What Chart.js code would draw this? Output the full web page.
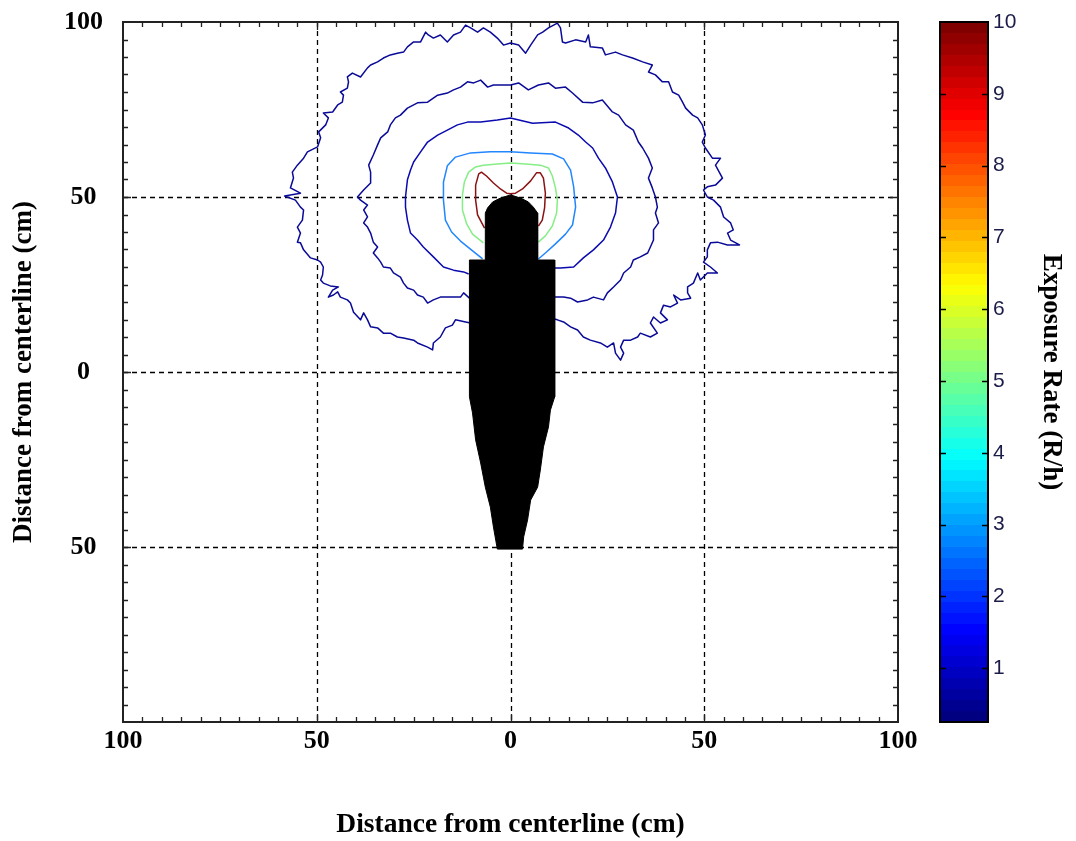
<!DOCTYPE html>
<html>
<head>
<meta charset="utf-8">
<script src="https://cdn.jsdelivr.net/npm/chart.js@4.4.1/dist/chart.umd.min.js"></script>
<style>
  html, body { margin: 0; padding: 0; background: #ffffff; }
  #wrap { position: relative; width: 1076px; height: 841px; overflow: hidden; background: #fff; }
  #main { position: absolute; left: 0; top: 0; }
  #bar { position: absolute; left: 920px; top: 0; }
</style>
</head>
<body>
<div id="wrap">
  <canvas id="main" width="920" height="841"></canvas>
  <canvas id="bar" width="156" height="841"></canvas>
</div>
<script>
// ---------------- DATA ----------------
const X_TICKS = [-100, -50, 0, 50, 100];
const X_TICK_LABELS = ['100', '50', '0', '50', '100'];
const Y_TICKS = [-50, 0, 50, 100];
const Y_TICK_LABELS = ['50', '0', '50', '100'];
const GRID_VALUES = [-50, 0, 50];
const X_TITLE = 'Distance from centerline (cm)';
const Y_TITLE = 'Distance from centerline (cm)';
const CB_TITLE = 'Exposure Rate (R/h)';
const CB_TICKS = [1, 2, 3, 4, 5, 6, 7, 8, 9, 10];
const CB_MIN = 0.25;
const CB_MAX = 10;

// contour lines (x, y in cm), outermost first
const contourOuter = [
  [-10.3,14.0],[-11.6,14.3],[-14.2,14.9],[-15.0,13.4],[-16.8,12.6],[-18.1,10.0],[-19.9,8.3],[-20.1,6.3],
  [-21.4,7.1],[-24.0,8.3],[-25.0,9.1],[-27.6,9.7],[-29.2,10.0],[-31.0,11.1],[-32.8,11.1],[-34.3,12.6],
  [-36.1,12.9],[-36.9,14.9],[-37.9,16.9],[-38.7,14.9],[-40.5,17.1],[-41.3,19.7],[-42.1,20.6],[-43.9,21.4],
  [-44.6,22.9],[-45.7,22.0],[-47.0,21.4],[-45.9,23.4],[-44.4,24.3],[-46.5,24.6],[-48.3,25.4],[-49.0,26.3],
  [-48.5,27.7],[-48.3,30.0],[-49.0,31.4],[-49.8,32.0],[-51.6,32.6],[-53.4,34.9],[-54.2,36.9],[-55.0,37.1],
  [-54.2,39.7],[-55.0,41.4],[-53.7,43.4],[-53.4,46.3],[-54.2,47.1],[-55.5,49.1],[-58.3,50.3],[-54.2,51.1],
  [-56.8,52.6],[-56.0,55.4],[-56.3,57.1],[-55.0,59.1],[-53.4,61.1],[-52.4,62.9],[-49.8,64.3],[-49.0,66.9],
  [-49.5,68.6],[-47.7,70.6],[-47.0,72.6],[-48.3,74.0],[-45.9,74.3],[-44.6,76.3],[-43.4,77.1],[-43.1,79.1],
  [-43.9,80.0],[-42.1,81.1],[-41.8,82.9],[-42.1,84.3],[-40.8,85.4],[-38.7,84.3],[-36.9,86.9],[-36.1,87.7],
  [-34.3,88.6],[-32.8,89.7],[-31.0,90.6],[-29.2,91.1],[-27.6,91.4],[-26.6,92.9],[-25.0,94.3],[-23.2,94.3],
  [-21.9,97.1],[-21.2,96.3],[-19.9,95.4],[-18.1,96.3],[-16.3,94.3],[-14.7,96.3],[-12.9,97.1],[-11.6,99.1],
  [-10.3,98.3],[-8.5,97.1],[-7.0,98.3],[-5.2,97.1],[-3.4,95.4],[-1.8,93.4],[0.0,94.0],[2.1,93.4],
  [3.9,91.1],[5.2,93.4],[7.0,96.3],[8.3,97.1],[9.8,98.3],[12.1,99.7],[12.9,98.3],[13.4,94.3],
  [14.2,94.0],[16.8,94.9],[19.4,94.3],[20.1,96.3],[20.6,92.9],[23.7,92.6],[24.5,90.6],[27.1,91.4],
  [28.9,90.6],[31.5,89.7],[34.1,88.6],[36.6,87.7],[35.6,85.7],[37.4,84.9],[39.2,82.9],[40.8,82.9],
  [41.8,80.0],[43.4,79.1],[44.4,77.1],[45.2,75.4],[47.0,73.4],[48.3,72.6],[49.5,70.6],[50.3,67.7],
  [49.5,65.7],[50.3,64.0],[52.1,61.1],[54.2,61.1],[52.9,59.1],[54.7,55.4],[52.9,53.4],[50.8,52.9],
  [49.8,52.0],[50.8,50.0],[52.4,49.1],[54.2,47.1],[55.0,44.3],[56.8,42.6],[57.5,40.6],[56.0,39.7],
  [56.8,37.7],[59.1,36.3],[56.0,36.3],[53.4,37.1],[51.6,36.9],[50.8,34.9],[50.8,32.9],[49.8,31.4],
  [51.6,30.0],[53.4,28.3],[50.8,28.3],[49.0,26.3],[48.3,28.3],[47.2,25.4],[45.7,24.3],[45.7,22.6],
  [46.5,21.1],[43.9,20.6],[42.1,22.0],[43.1,19.7],[41.3,18.6],[39.5,19.1],[38.7,16.9],[40.5,14.9],
  [38.7,14.0],[36.9,15.7],[36.1,14.0],[37.9,11.1],[36.1,10.0],[33.5,11.1],[32.8,10.0],[31.0,9.1],
  [29.2,9.1],[28.4,7.1],[29.2,5.4],[28.4,3.4],[27.1,5.4],[26.6,8.3],[25.0,7.1],[23.2,8.3],
  [20.6,9.1],[18.8,10.0],[17.3,12.0],[15.5,12.9],[13.7,14.3],[12.1,14.9],[10.3,15.4]
];
const contourSecond = [
  [-10.6,21.1],[-12.1,22.6],[-12.9,21.4],[-18.1,21.4],[-19.9,20.6],[-21.4,19.7],[-22.5,21.4],[-24.0,22.0],
  [-25.0,23.4],[-26.6,24.0],[-27.6,25.4],[-28.4,27.1],[-30.2,28.3],[-31.0,29.7],[-32.8,30.0],[-33.5,31.4],
  [-34.3,32.6],[-35.4,34.0],[-34.3,35.7],[-35.4,37.1],[-36.1,39.7],[-36.9,41.4],[-37.9,42.6],[-36.9,44.3],
  [-37.9,46.3],[-36.9,47.7],[-38.7,49.1],[-39.5,50.0],[-37.9,52.0],[-36.1,54.0],[-36.1,57.1],[-36.6,59.1],
  [-35.4,62.0],[-34.3,64.9],[-33.5,66.9],[-31.7,68.6],[-31.0,70.6],[-29.7,72.6],[-28.4,73.4],[-26.6,75.4],
  [-24.0,76.9],[-21.4,77.1],[-18.8,79.1],[-16.3,79.7],[-14.7,80.6],[-12.9,81.4],[-11.1,82.9],[-9.5,82.6],
  [-7.7,83.4],[-5.9,81.4],[-4.4,82.0],[-1.8,82.0],[0.0,82.0],[2.1,82.6],[4.6,80.6],[7.2,82.0],
  [9.8,82.6],[11.6,81.1],[14.2,81.4],[16.0,79.7],[18.6,77.1],[21.2,76.9],[23.7,77.7],[26.3,74.3],
  [27.9,73.4],[29.7,70.6],[31.7,69.1],[33.0,65.7],[34.1,64.0],[35.6,61.1],[36.6,58.3],[35.6,55.4],
  [36.6,52.6],[37.4,50.0],[37.9,47.1],[37.4,45.4],[38.2,42.6],[36.9,40.6],[36.9,37.7],[36.1,35.7],
  [35.4,34.0],[33.5,32.9],[31.7,32.0],[31.0,30.0],[29.2,28.3],[28.4,26.3],[26.6,24.3],[25.0,22.6],
  [24.0,20.6],[21.4,21.4],[19.9,20.6],[17.3,20.0],[15.5,21.1],[13.7,21.4],[10.6,21.4]
];
const contourThird = [
  [-10.8,28.0],[-12.1,28.6],[-14.7,29.1],[-17.3,30.0],[-19.9,32.9],[-22.5,35.7],[-24.0,37.7],[-25.8,39.7],
  [-26.6,43.4],[-27.1,47.1],[-27.1,50.0],[-26.6,54.9],[-25.8,57.7],[-25.0,60.0],[-23.2,62.9],[-21.4,65.7],
  [-18.8,67.7],[-16.3,69.1],[-13.7,70.6],[-11.1,71.4],[-7.7,71.4],[-3.4,72.0],[0.0,72.6],[5.7,71.1],
  [11.6,71.4],[15.0,69.7],[17.5,67.7],[19.4,65.7],[21.2,64.0],[22.7,61.1],[24.5,58.3],[26.3,54.3],
  [27.6,50.0],[27.1,45.4],[25.8,41.4],[24.0,37.7],[21.4,34.9],[18.8,32.6],[16.3,30.0],[12.9,29.7],[10.8,29.7]
];
const contourLightBlue = [
  [-7.2,32.3],[-10.1,34.9],[-12.9,37.4],[-15.2,40.0],[-16.8,43.4],[-17.3,49.1],[-17.3,54.3],[-16.3,58.9],
  [-14.2,61.4],[-10.3,62.6],[-5.2,62.9],[0.0,62.9],[5.2,62.6],[10.8,62.3],[13.7,60.9],[15.5,57.7],
  [16.3,52.9],[16.8,47.1],[16.0,42.0],[14.2,39.4],[11.6,36.6],[9.0,34.0],[7.2,32.3]
];
const contourGreen = [
  [-7.0,36.9],[-9.8,39.4],[-11.3,42.3],[-12.4,46.3],[-12.4,50.6],[-11.9,54.3],[-10.8,57.1],[-9.0,58.6],
  [-7.0,59.1],[-3.4,59.4],[0.0,59.7],[3.9,59.4],[7.7,59.1],[9.8,58.3],[10.8,56.0],[11.6,52.6],
  [12.1,49.1],[11.9,45.4],[10.8,41.7],[9.0,38.9],[7.2,37.1]
];
const contourRed = [
  [-6.7,41.1],[-8.5,44.9],[-9.0,49.1],[-9.0,53.4],[-8.2,56.6],[-7.5,57.1],[-6.2,56.0],[-4.4,54.0],
  [-2.6,52.3],[-1.0,51.1],[0.0,50.9],[1.3,51.1],[3.1,52.3],[5.2,54.6],[6.7,56.9],[7.7,56.9],
  [8.5,55.4],[9.0,51.1],[8.8,46.9],[8.2,43.4],[7.2,41.7]
];
// outline of the object (black silhouette)
const objectOutline = [
  [0.0,50.6],[2.6,49.7],[4.6,48.6],[5.9,47.1],[7.0,45.4],[7.0,32.0],[11.4,32.0],[11.4,-7.1],
  [10.3,-10.9],[9.8,-15.7],[8.5,-21.4],[7.7,-28.0],[7.0,-32.9],[5.2,-36.6],[4.4,-42.3],[3.4,-47.1],
  [3.1,-50.6],[-3.4,-50.6],[-4.4,-44.3],[-5.2,-38.6],[-6.5,-32.9],[-7.7,-26.0],[-9.0,-19.4],[-9.8,-11.7],
  [-10.6,-7.1],[-10.6,32.0],[-6.5,32.0],[-6.5,45.4],[-5.9,46.9],[-4.6,48.6],[-2.6,49.7],[0.0,50.6]
];

// ---------------- CHART ----------------
const toXY = arr => arr.map(p => ({ x: p[0], y: p[1] }));
const serif = "'Liberation Serif', 'Times New Roman', serif";
const sans = "'Liberation Sans', Arial, sans-serif";

function lineSet(pts, color, order) {
  return { data: toXY(pts), showLine: true, borderColor: color, borderWidth: 1.5,
           pointRadius: 0, tension: 0, fill: false, order: order, borderJoinStyle: 'round' };
}

const framePlugin = {
  id: 'framePlugin',
  beforeDatasetsDraw(chart) {
    const { ctx, chartArea: a, scales: { x, y } } = chart;
    ctx.save();
    ctx.strokeStyle = '#000';
    ctx.lineWidth = 1.3;
    ctx.setLineDash([5, 4]);
    GRID_VALUES.forEach(v => {
      const px = Math.round(x.getPixelForValue(v)) + 0.5;
      ctx.beginPath(); ctx.moveTo(px, a.top); ctx.lineTo(px, a.bottom); ctx.stroke();
      const py = Math.round(y.getPixelForValue(v)) + 0.5;
      ctx.beginPath(); ctx.moveTo(a.left, py); ctx.lineTo(a.right, py); ctx.stroke();
    });
    ctx.restore();
  },
  afterDatasetsDraw(chart) {
    const { ctx, chartArea: a, scales: { x, y } } = chart;
    ctx.save();
    ctx.strokeStyle = '#222';
    ctx.lineWidth = 1.3;
    for (let v = -95; v < 100; v += 5) {
      const len = (v % 50 === 0) ? 8 : 5;
      const px = Math.round(x.getPixelForValue(v)) + 0.5;
      ctx.beginPath(); ctx.moveTo(px, a.top); ctx.lineTo(px, a.top + len);
      ctx.moveTo(px, a.bottom); ctx.lineTo(px, a.bottom - len); ctx.stroke();
      const py = Math.round(y.getPixelForValue(v)) + 0.5;
      ctx.beginPath(); ctx.moveTo(a.left, py); ctx.lineTo(a.left + len, py);
      ctx.moveTo(a.right, py); ctx.lineTo(a.right - len, py); ctx.stroke();
    }
    ctx.lineWidth = 2;
    ctx.strokeRect(a.left, a.top, a.right - a.left, a.bottom - a.top);
    ctx.restore();
  }
};

new Chart(document.getElementById('main'), {
  type: 'scatter',
  data: {
    datasets: [
      { data: toXY(objectOutline), showLine: true, borderColor: '#000', borderWidth: 1,
        backgroundColor: '#000', fill: 'shape', pointRadius: 0, tension: 0, order: 0 },
      lineSet(contourRed, '#8b1212', 1),
      lineSet(contourGreen, '#86ee86', 2),
      lineSet(contourLightBlue, '#2286ff', 3),
      lineSet(contourThird, '#0a0ab0', 4),
      lineSet(contourSecond, '#0a0a98', 5),
      lineSet(contourOuter, '#0a0a98', 6)
    ]
  },
  options: {
    responsive: false,
    animation: false,
    events: [],
    layout: { padding: { left: 0, top: 22, right: 22, bottom: 0 } },
    plugins: { legend: { display: false }, tooltip: { enabled: false } },
    scales: {
      x: {
        type: 'linear', min: -100, max: 100,
        afterBuildTicks: s => { s.ticks = X_TICKS.map(v => ({ value: v })); },
        afterFit: s => { s.height = 119; s.paddingLeft = 0; s.paddingRight = 0; },
        grid: { display: false, drawTicks: false },
        border: { display: false },
        ticks: { padding: 4, color: '#000', font: { family: serif, size: 26, weight: 'bold' },
                 maxRotation: 0, autoSkip: false,
                 callback: v => { const i = X_TICKS.indexOf(v); return i >= 0 ? X_TICK_LABELS[i] : ''; } },
        title: { display: true, text: X_TITLE, color: '#000',
                 font: { family: serif, size: 27.5, weight: 'bold' }, padding: { top: 0, bottom: 0 } }
      },
      y: {
        type: 'linear', min: -100, max: 100,
        afterBuildTicks: s => { s.ticks = Y_TICKS.map(v => ({ value: v })); },
        afterFit: s => { s.width = 123; s.paddingTop = 0; s.paddingBottom = 0; },
        grid: { display: false, drawTicks: false },
        border: { display: false },
        ticks: { padding: 20, crossAlign: 'center', color: '#000',
                 font: { family: serif, size: 26, weight: 'bold' }, autoSkip: false,
                 callback: v => { const i = Y_TICKS.indexOf(v); return i >= 0 ? Y_TICK_LABELS[i] : ''; } },
        title: { display: true, text: Y_TITLE, color: '#000',
                 font: { family: serif, size: 27, weight: 'bold' }, padding: { top: 8, bottom: 0 } }
      }
    }
  },
  plugins: [framePlugin]
});

// ---------------- COLOR BAR ----------------
function jet(t) {
  const c = v => Math.round(255 * Math.max(0, Math.min(1, v)));
  return 'rgb(' + c(1.5 - Math.abs(4 * t - 3)) + ',' + c(1.5 - Math.abs(4 * t - 2)) + ',' + c(1.5 - Math.abs(4 * t - 1)) + ')';
}
const BANDS = 64;
function barFill(context) {
  const { ctx, chartArea } = context.chart;
  if (!chartArea) return '#000080';
  const g = ctx.createLinearGradient(0, chartArea.bottom, 0, chartArea.top);
  for (let i = 0; i < BANDS; i++) {
    const col = jet(i / (BANDS - 1));
    g.addColorStop(i / BANDS, col);
    g.addColorStop((i + 1) / BANDS, col);
  }
  return g;
}
const cbPlugin = {
  id: 'cbPlugin',
  afterDatasetsDraw(chart) {
    const { ctx, chartArea: a, scales: { y } } = chart;
    ctx.save();
    ctx.strokeStyle = '#000';
    ctx.lineWidth = 1.5;
    CB_TICKS.forEach(v => {
      if (v >= CB_MAX) return;
      const py = Math.round(y.getPixelForValue(v)) + 0.5;
      ctx.beginPath();
      ctx.moveTo(a.left, py); ctx.lineTo(a.left + 6, py);
      ctx.moveTo(a.right, py); ctx.lineTo(a.right - 6, py);
      ctx.stroke();
    });
    ctx.lineWidth = 2;
    ctx.strokeRect(a.left, a.top, a.right - a.left, a.bottom - a.top);
    ctx.restore();
  }
};
new Chart(document.getElementById('bar'), {
  type: 'bar',
  data: {
    labels: [''],
    datasets: [{ data: [[CB_MIN, CB_MAX]], backgroundColor: barFill, borderWidth: 0,
                 barPercentage: 1, categoryPercentage: 1 }]
  },
  options: {
    responsive: false,
    animation: false,
    events: [],
    layout: { padding: { left: 20, top: 22, right: 0, bottom: 119 } },
    plugins: { legend: { display: false }, tooltip: { enabled: false } },
    scales: {
      x: { display: false },
      y: {
        position: 'right', min: CB_MIN, max: CB_MAX,
        afterBuildTicks: s => { s.ticks = CB_TICKS.map(v => ({ value: v })); },
        afterFit: s => { s.width = 88; s.paddingTop = 0; s.paddingBottom = 0; },
        grid: { display: false, drawTicks: false },
        border: { display: false },
        ticks: { padding: 5, color: '#1c1c4a', font: { family: sans, size: 21 }, autoSkip: false,
                 callback: v => String(v) },
        title: { display: true, text: CB_TITLE, color: '#000',
                 font: { family: serif, size: 27, weight: 'bold' }, padding: { top: 9, bottom: 0 } }
      }
    }
  },
  plugins: [cbPlugin]
});
</script>
</body>
</html>
